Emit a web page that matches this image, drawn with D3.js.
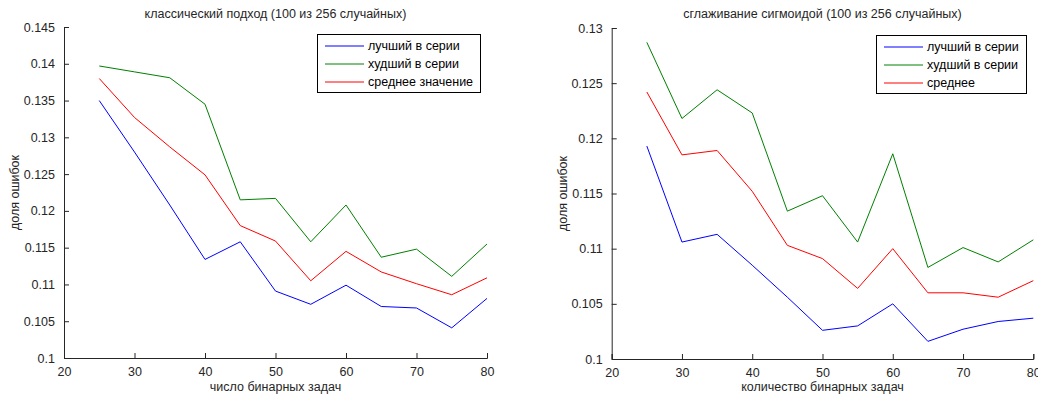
<!DOCTYPE html>
<html>
<head>
<meta charset="utf-8">
<script src="https://cdn.jsdelivr.net/npm/d3@7"></script>
<style>
  body { margin: 0; background: #fff; }
  svg { display: block; font-family: "Liberation Sans", Arial, sans-serif; }
  .tick text { fill: #262626; }
</style>
</head>
<body>
<svg id="SVG" width="1038" height="396"></svg>
<script>
// общие данные
const xValues = [25, 30, 35, 40, 45, 50, 55, 60, 65, 70, 75, 80];
const xTicks = [20, 30, 40, 50, 60, 70, 80];

// левый график: классический подход
const classicBest = [0.135, 0.128, 0.1208, 0.1134, 0.1158, 0.1091, 0.1073, 0.1099, 0.1070, 0.1068, 0.1041, 0.1081];
const classicWorst = [0.1397, 0.1389, 0.1381, 0.1345, 0.1215, 0.1217, 0.1158, 0.1208, 0.1137, 0.1148, 0.1111, 0.1155];
const classicMean = [0.138, 0.1327, 0.1287, 0.1249, 0.118, 0.1159, 0.1105, 0.1145, 0.1117, 0.1101, 0.1086, 0.1109];
const classicYTicks = [0.1, 0.105, 0.11, 0.115, 0.12, 0.125, 0.13, 0.135, 0.14, 0.145];

// правый график: сглаживание сигмоидой
const sigmoidBest = [0.1193, 0.1106, 0.1113, 0.1085, 0.1056, 0.1026, 0.1030, 0.1050, 0.1016, 0.1027, 0.1034, 0.1037];
const sigmoidWorst = [0.1287, 0.1218, 0.1244, 0.1223, 0.1134, 0.1148, 0.1106, 0.1186, 0.1083, 0.1101, 0.1088, 0.1108];
const sigmoidMean = [0.1242, 0.1185, 0.1189, 0.1152, 0.1103, 0.1091, 0.1064, 0.1100, 0.1060, 0.1060, 0.1056, 0.1071];
const sigmoidYTicks = [0.1, 0.105, 0.11, 0.115, 0.12, 0.125, 0.13];

const colors = ['#0000ff', '#008000', '#ff0000'];
const svg = d3.select('#SVG');

const drawPanel = (opt) => {
	const x = d3.scaleLinear().domain([20, 80]).range([opt.left, opt.right]);
	const y = d3.scaleLinear().domain(opt.yDomain).range([opt.bottom, opt.top]);
	const g = svg.append('g');

	// оси (засечки внутрь, как в matlab)
	const xAxis = g.append('g').attr('transform', `translate(0,${opt.bottom})`)
		.call(d3.axisBottom(x).tickValues(xTicks).tickSize(-5).tickPadding(9).tickFormat(d3.format('d')));
	const yAxis = g.append('g').attr('transform', `translate(${opt.left},0)`)
		.call(d3.axisLeft(y).tickValues(opt.yTicks).tickSize(-5).tickPadding(9).tickFormat((d) => String(+d.toFixed(3))));
	[xAxis, yAxis].forEach((a) => {
		a.selectAll('.domain').attr('stroke', '#262626');
		a.selectAll('.tick line').attr('stroke', '#262626');
		a.selectAll('.tick text').attr('font-size', 12.5);
	});
	xAxis.selectAll('.tick text').attr('dy', '0.71em');

	// линии серий
	const line = d3.line().x((d, i) => x(xValues[i])).y((d) => y(d));
	opt.series.forEach((s, i) => {
		g.append('path').datum(s).attr('fill', 'none').attr('stroke', colors[i]).attr('stroke-width', 1).attr('d', line);
	});

	// подписи
	g.append('text').attr('x', (opt.left + opt.right) / 2).attr('y', 18).attr('text-anchor', 'middle')
		.attr('font-size', 12.5).attr('fill', '#262626').text(opt.title);
	g.append('text').attr('x', (opt.left + opt.right) / 2).attr('y', 391).attr('text-anchor', 'middle')
		.attr('font-size', 12.5).attr('fill', '#262626').text(opt.xLabel);
	g.append('text').attr('transform', `translate(${opt.yLabelX},${(opt.top + opt.bottom) / 2}) rotate(-90)`)
		.attr('text-anchor', 'middle').attr('dy', '0.35em').attr('font-size', 12.5).attr('fill', '#262626').text('доля ошибок');

	// легенда
	const lg = g.append('g').attr('transform', `translate(${opt.legend.x},${opt.legend.y})`);
	lg.append('rect').attr('x', 0.5).attr('y', 0.5).attr('width', opt.legend.w).attr('height', 58)
		.attr('fill', '#fff').attr('stroke', '#000');
	opt.names.forEach((name, i) => {
		const ly = 12 + i * 18;
		lg.append('line').attr('x1', 8).attr('x2', 47).attr('y1', ly).attr('y2', ly).attr('stroke', colors[i]);
		lg.append('text').attr('x', 51).attr('y', ly).attr('dy', '0.35em').attr('font-size', 12.5).attr('fill', '#000').text(name);
	});
};

drawPanel({
	left: 64, right: 487, top: 27, bottom: 358, yDomain: [0.1, 0.145], yTicks: classicYTicks,
	series: [classicBest, classicWorst, classicMean], yLabelX: 15,
	title: 'классический подход (100 из 256 случайных)', xLabel: 'число бинарных задач',
	names: ['лучший в серии', 'худший в серии', 'среднее значение'],
	legend: { x: 317, y: 34, w: 163 },
});

drawPanel({
	left: 611.7, right: 1033.3, top: 28, bottom: 359, yDomain: [0.1, 0.13], yTicks: sigmoidYTicks,
	series: [sigmoidBest, sigmoidWorst, sigmoidMean], yLabelX: 563,
	title: 'сглаживание сигмоидой (100 из 256 случайных)', xLabel: 'количество бинарных задач',
	names: ['лучший в серии', 'худший в серии', 'среднее'],
	legend: { x: 876, y: 35, w: 150 },
});
</script>
</body>
</html>
